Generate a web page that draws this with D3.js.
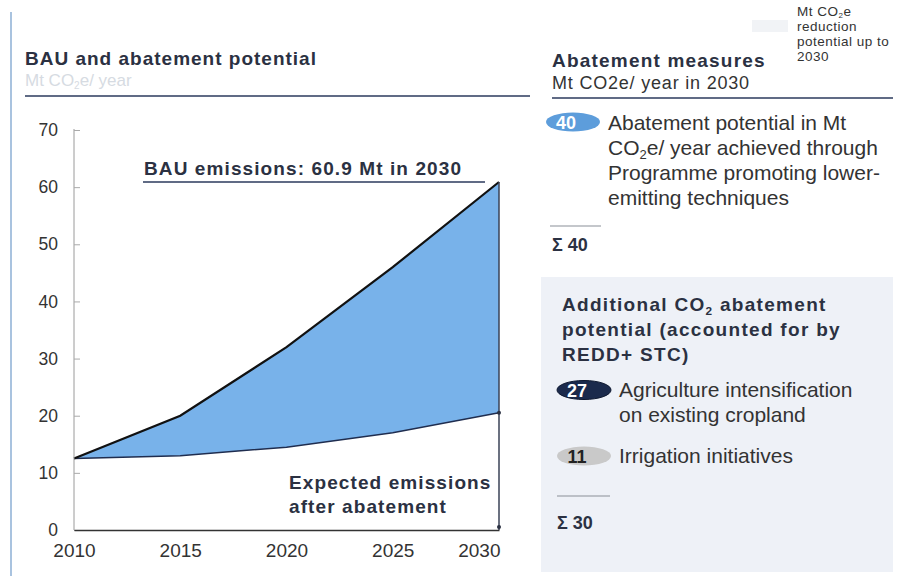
<!DOCTYPE html>
<html>
<head>
<meta charset="utf-8">
<script src="https://cdn.jsdelivr.net/npm/d3@7"></script>
<style>
  html, body { margin: 0; padding: 0; background: #fff; }
  svg { display: block; font-family: "Liberation Sans", Arial, sans-serif; }
</style>
</head>
<body>
<svg id="chart" width="901" height="576"></svg>
<script>
// Emission pathways, Mt CO2e per year
const years = [2010, 2015, 2020, 2025, 2030];
const bauEmissions = [12.5, 20, 32, 46, 60.9];
const expectedEmissions = [12.5, 13, 14.5, 17, 20.5];
const yTicks = [0, 10, 20, 30, 40, 50, 60, 70];

// Abatement measures (Mt CO2e / year in 2030)
const programmeMeasures = [{ value: 40, lines: ["Abatement potential in Mt", "CO|2|e/ year achieved through", "Programme promoting lower-", "emitting techniques"] }];
const programmeTotal = 40;
const additionalMeasures = [
  { value: 27, lines: ["Agriculture intensification", "on existing cropland"], kind: "dark" },
  { value: 11, lines: ["Irrigation initiatives"], kind: "grey" }
];
const additionalTotal = 30;

const svg = d3.select("#chart");
const ink = "#2b3142";
const text = "#333";

// frame accents
svg.append("line").attr("x1", 11).attr("x2", 11).attr("y1", 12).attr("y2", 576)
  .attr("stroke", "#a9c3df").attr("stroke-width", 2);
svg.append("rect").attr("x", 541).attr("y", 277).attr("width", 352).attr("height", 295)
  .attr("fill", "#eef1f7");

// ---------- left panel: BAU and abatement ----------
svg.append("text").attr("x", 25).attr("y", 65).attr("font-size", 19).attr("font-weight", "bold")
  .attr("letter-spacing", 1).attr("fill", ink).text("BAU and abatement potential");
const sub = svg.append("text").attr("x", 25).attr("y", 86).attr("font-size", 17).attr("fill", "#d6dbe2");
sub.append("tspan").text("Mt CO");
sub.append("tspan").attr("font-size", 10).attr("dy", 3).text("2");
sub.append("tspan").attr("dy", -3).text("e/ year");
svg.append("line").attr("x1", 25).attr("x2", 530).attr("y1", 96).attr("y2", 96)
  .attr("stroke", "#2b3a5c").attr("stroke-width", 1.5);

const x = d3.scaleLinear().domain([2010, 2030]).range([74, 499]);
const y = d3.scaleLinear().domain([0, 70]).range([530, 130]);

const bauPts = years.map((yr, i) => [x(yr), y(bauEmissions[i])]);
const expPts = years.map((yr, i) => [x(yr), y(expectedEmissions[i])]);

// abatement band between BAU and expected pathway
const area = d3.area()
  .x((d, i) => x(years[i]))
  .y0((d, i) => y(expectedEmissions[i]))
  .y1(d => y(d));
svg.append("path").datum(bauEmissions).attr("d", area).attr("fill", "#78b2ea");

const line = d3.line();
svg.append("path").attr("d", line(expPts)).attr("fill", "none")
  .attr("stroke", "#1f2d4f").attr("stroke-width", 1.5);
svg.append("path").attr("d", line(bauPts)).attr("fill", "none")
  .attr("stroke", "#111").attr("stroke-width", 2.2);

// 2030 marker line
svg.append("line").attr("x1", x(2030)).attr("x2", x(2030))
  .attr("y1", y(bauEmissions[4])).attr("y2", y(0))
  .attr("stroke", "#3a4256").attr("stroke-width", 1.5);
svg.append("circle").attr("cx", x(2030)).attr("cy", y(expectedEmissions[4])).attr("r", 2).attr("fill", "#2b3142");
svg.append("circle").attr("cx", x(2030)).attr("cy", y(0) - 3).attr("r", 2).attr("fill", "#2b3142");

// axes
const yAxis = d3.axisLeft(y).tickValues(yTicks).tickSize(-6).tickPadding(16);
const gy = svg.append("g").attr("transform", `translate(${x(2010)},0)`).call(yAxis);
gy.select(".domain").attr("stroke", "#9a9a9a").attr("d", `M0,${y(70) - 1}V${y(0)}`);
gy.selectAll(".tick line").attr("stroke", "#aaa");
gy.selectAll(".tick text").attr("font-size", 17.5).attr("fill", text).attr("font-family", "Liberation Sans, Arial, sans-serif");

const xAxis = d3.axisBottom(x).tickValues(years).tickFormat(d3.format("d")).tickSize(0).tickPadding(14);
const gx = svg.append("g").attr("transform", `translate(0,${y(0)})`).call(xAxis);
gx.select(".domain").attr("stroke", "#333").attr("stroke-width", 1.5);
gx.selectAll(".tick text").attr("font-size", 19).attr("fill", text).attr("font-family", "Liberation Sans, Arial, sans-serif")
  .attr("text-anchor", d => d === 2030 ? "end" : "middle")
  .attr("dx", d => d === 2030 ? 1 : 0);

// annotations
svg.append("text").attr("x", 144).attr("y", 175).attr("font-size", 19).attr("font-weight", "bold")
  .attr("fill", ink).attr("letter-spacing", 1.1).text(`BAU emissions: ${bauEmissions[4]} Mt in 2030`);
svg.append("line").attr("x1", 143).attr("x2", 485).attr("y1", y(bauEmissions[4])).attr("y2", y(bauEmissions[4]))
  .attr("stroke", "#2b3a5c").attr("stroke-width", 1.5);
svg.append("text").attr("x", 289).attr("y", 489).attr("font-size", 19).attr("font-weight", "bold")
  .attr("fill", ink).attr("letter-spacing", 1.1).text("Expected emissions");
svg.append("text").attr("x", 289).attr("y", 513).attr("font-size", 19).attr("font-weight", "bold")
  .attr("fill", ink).attr("letter-spacing", 1.1).text("after abatement");

// ---------- right panel: abatement measures ----------
svg.append("text").attr("x", 552).attr("y", 67).attr("font-size", 19).attr("font-weight", "bold")
  .attr("letter-spacing", 1.2).attr("fill", ink).text("Abatement measures");
svg.append("text").attr("x", 552).attr("y", 89).attr("font-size", 18).attr("letter-spacing", 0.8)
  .attr("fill", text).text("Mt CO2e/ year in 2030");
svg.append("rect").attr("x", 752).attr("y", 20).attr("width", 36).attr("height", 12).attr("fill", "#f1f3f6");
const small = ["Mt CO|2|e", "reduction", "potential up to", "2030"];
small.forEach((s, i) => {
  const t = svg.append("text").attr("x", 797).attr("y", 16 + i * 15).attr("font-size", 13.5)
    .attr("letter-spacing", 0.5).attr("fill", text);
  const parts = s.split("|");
  t.append("tspan").text(parts[0]);
  if (parts.length > 1) {
    t.append("tspan").attr("font-size", 8).attr("dy", 2).text(parts[1]);
    t.append("tspan").attr("dy", -2).text(parts[2]);
  }
});
svg.append("line").attr("x1", 552).attr("x2", 893).attr("y1", 98).attr("y2", 98)
  .attr("stroke", "#2b3a5c").attr("stroke-width", 1.5);

// text with optional subscript segments marked as "a|sub|b"
function richText(sel, str, size) {
  const parts = str.split("|");
  sel.append("tspan").text(parts[0]);
  if (parts.length > 1) {
    sel.append("tspan").attr("font-size", size * 0.62).attr("dy", 4).text(parts[1]);
    sel.append("tspan").attr("dy", -4).text(parts[2]);
  }
}

const badgeStyle = {
  blue: { fill: "#5d9ddb", num: "#fff", stroke: "none" },
  dark: { fill: "#1b2a4c", num: "#fff", stroke: "#0e1830" },
  grey: { fill: "#c9c9c9", num: "#222", stroke: "none" }
};
function badge(cx, cy, value, kind) {
  const st = badgeStyle[kind];
  svg.append("ellipse").attr("cx", cx).attr("cy", cy).attr("rx", 27).attr("ry", 9.5)
    .attr("fill", st.fill).attr("stroke", st.stroke);
  svg.append("text").attr("x", cx - 7).attr("y", cy + 6.5).attr("text-anchor", "middle")
    .attr("font-size", 18).attr("font-weight", "bold").attr("fill", st.num).text(value);
}

programmeMeasures.forEach(m => {
  badge(573, 122, m.value, "blue");
  m.lines.forEach((ln, i) => {
    const t = svg.append("text").attr("x", 608).attr("y", 130 + i * 25).attr("font-size", 21).attr("fill", text);
    richText(t, ln, 21);
  });
});
svg.append("line").attr("x1", 550).attr("x2", 601).attr("y1", 226).attr("y2", 226)
  .attr("stroke", "#8a8f98").attr("stroke-width", 1.2);
svg.append("text").attr("x", 552).attr("y", 251).attr("font-size", 18).attr("font-weight", "bold")
  .attr("fill", ink).text(`Σ ${programmeTotal}`);

["Additional CO|2| abatement", "potential (accounted for by", "REDD+ STC)"].forEach((ln, i) => {
  const t = svg.append("text").attr("x", 562).attr("y", 311 + i * 25).attr("font-size", 19)
    .attr("letter-spacing", 1.3).attr("font-weight", "bold").attr("fill", ink);
  richText(t, ln, 19);
});

const rowY = [390, 456];
additionalMeasures.forEach((m, k) => {
  badge(584, rowY[k], m.value, m.kind);
  m.lines.forEach((ln, i) => {
    svg.append("text").attr("x", 619).attr("y", rowY[k] + 7 + i * 25).attr("font-size", 21)
      .attr("fill", text).text(ln);
  });
});
svg.append("line").attr("x1", 557).attr("x2", 610).attr("y1", 496).attr("y2", 496)
  .attr("stroke", "#8a8f98").attr("stroke-width", 1.2);
svg.append("text").attr("x", 557).attr("y", 529).attr("font-size", 18).attr("font-weight", "bold")
  .attr("fill", ink).text(`Σ ${additionalTotal}`);
</script>
</body>
</html>
